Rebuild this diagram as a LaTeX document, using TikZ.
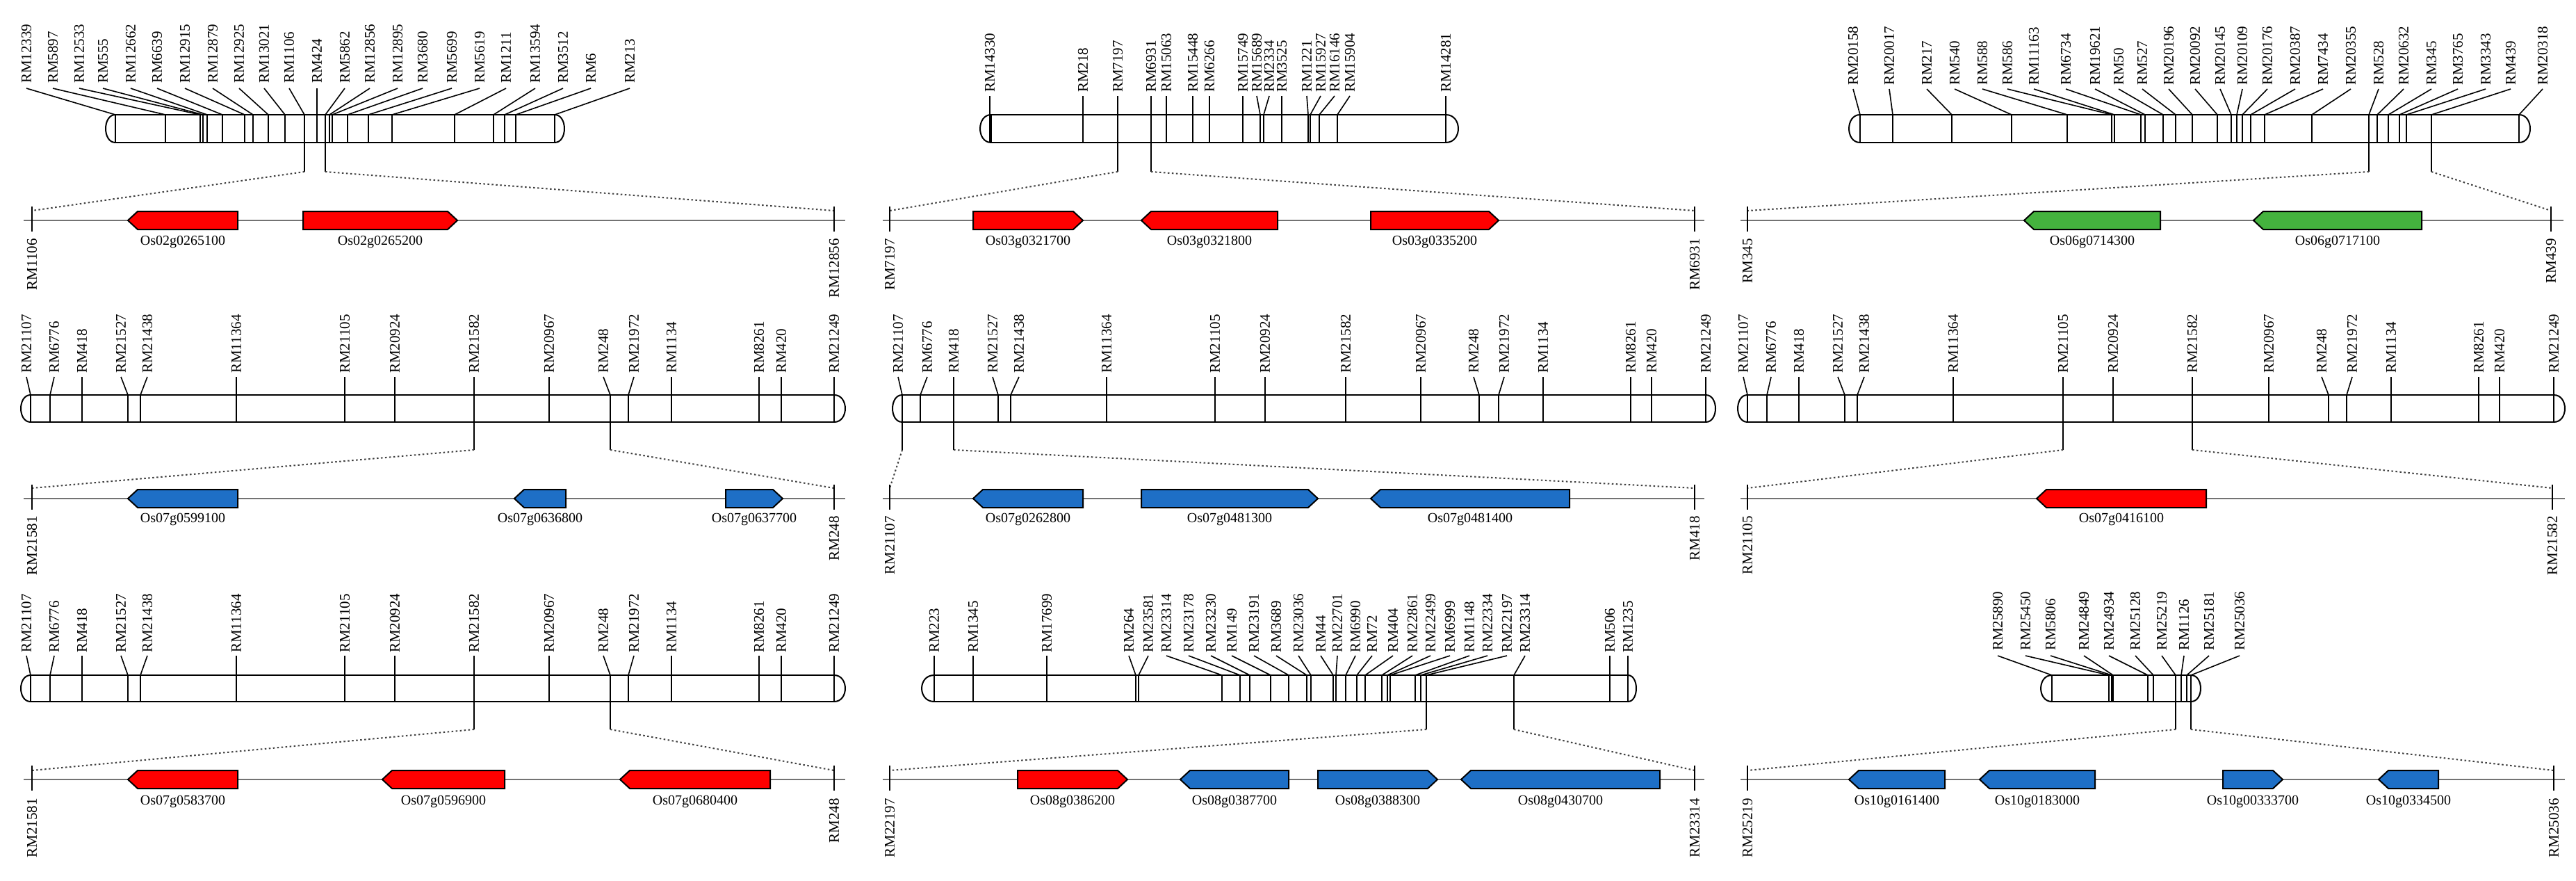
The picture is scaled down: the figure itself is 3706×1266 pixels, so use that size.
\documentclass[tikz,border=0pt]{standalone}
\usepackage{fontspec}
\setmainfont{Liberation Serif}
\begin{document}
\definecolor{gred}{HTML}{FF0000}
\definecolor{gblue}{HTML}{1E6FC6}
\definecolor{ggreen}{HTML}{44B23E}
\tikzset{
 mk/.style={rotate=90,inner sep=0pt,font=\fontsize{21}{24}\selectfont},
 gl/.style={inner sep=0pt,font=\fontsize{20}{24}\selectfont},
 thin1/.style={line width=1.6pt,black},
 chr/.style={line width=2pt,black},
 dotl/.style={line width=2pt,dash pattern=on 2.5pt off 3.5pt,black!75},
 track/.style={line width=2pt,black!55},
 tick/.style={line width=2pt,black},
 gene/.style={line width=2pt,draw=black}
}
\newcommand\drawpanel[1]{%
 \edef\mylist{#1}%
 \foreach \lx/\mx/\nm [count=\i] in \mylist {
   \node[mk,anchor=west] (\PN l\i) at (\lx,\LB) {\nm};
   \draw[thin1] (\lx,\LS) -- (\mx,\CT) -- (\mx,\CB);
 }
 \draw[chr] (\RL,\CT) rectangle (\RR,\CB);
 \draw[chr] (\RR,\CT) .. controls ({\RR+1.33*\WR},\CT) and ({\RR+1.33*\WR},\CB) .. (\RR,\CB);
 \draw[chr] (\RL,\CT) .. controls ({\RL-1.33*\WL},\CT) and ({\RL-1.33*\WL},\CB) .. (\RL,\CB);
}
\newcommand\zoomtrack[8]{%
 \coordinate (\PN z1) at (#1,\ZY); \coordinate (\PN z2) at (#2,\ZY);
 \coordinate (\PN d1) at (#3,\DY); \coordinate (\PN d2) at (#4,\DY);
 \draw[thin1] (#1,\CB) -- (\PN z1); \draw[thin1] (#2,\CB) -- (\PN z2);
 \draw[dotl] (\PN z1) -- (\PN d1); \draw[dotl] (\PN z2) -- (\PN d2);
 \draw[track] (#5,\TY) -- (#6,\TY);
 \draw[tick] (#3,\TY-20) -- (#3,\TY+16); \draw[tick] (#4,\TY-20) -- (#4,\TY+16);
 \node[mk,anchor=east] (\PN bl) at (#3,\BL) {#7};
 \node[mk,anchor=east] (\PN br) at (#4,\BL) {#8};
}
\newcommand\geneR[5]{%
 \draw[gene,fill=#4] (#2,\TY-13) -- (#3-14,\TY-13) -- (#3,\TY) -- (#3-14,\TY+13) -- (#2,\TY+13) -- cycle;
 \node[gl] (#1) at ({(#2+#3)/2},\GL) {#5};
}
\newcommand\geneL[5]{%
 \draw[gene,fill=#4] (#3,\TY-13) -- (#2+14,\TY-13) -- (#2,\TY) -- (#2+14,\TY+13) -- (#3,\TY+13) -- cycle;
 \node[gl] (#1) at ({(#2+#3)/2},\GL) {#5};
}
\newcommand\rowone{\def\CT{165}\def\CB{205}\def\ZY{247}\def\DY{303}\def\TY{317}\def\GL{348}\def\BL{343}}
\newcommand\rowtwo{\def\CT{568}\def\CB{607}\def\ZY{647}\def\DY{702}\def\TY{717}\def\GL{747}\def\BL{742}}
\newcommand\rowthree{\def\CT{971}\def\CB{1009}\def\ZY{1049}\def\DY{1108}\def\TY{1121}\def\GL{1153}\def\BL{1148}}
\newcommand\chrsevenA{38/44/RM21107, 78/72/RM6776, 118/118/RM418, 174/184/RM21527, 212/202/RM21438, 340/340/RM11364, 496/496/RM21105, 568/568/RM20924, 682/682/RM21582, 790/790/RM20967, 868/878/RM248, 912/904/RM21972, 966/966/RM1134, 1092/1092/RM8261, 1124/1124/RM420, 1200/1200/RM21249}
\begin{tikzpicture}[x=1pt,y=-1pt]
\useasboundingbox[fill=white] (0,0) rectangle (3706,1266);
% ---------- Panel A
\begin{scope}
\rowone\def\PN{A}\def\LB{120}\def\LS{127}\def\RL{166}\def\RR{798}\def\WL{14}\def\WR{14}
\drawpanel{38/166/RM12339, 76/238/RM5897, 114/288/RM12533, 148/292/RM555, 188/298/RM12662, 226/320/RM6639, 266/352/RM12915, 306/364/RM12879, 344/386/RM12925, 380/410/RM13021, 416/438/RM1106, 456/456/RM424, 496/468/RM5862, 532/474/RM12856, 572/478/RM12895, 608/500/RM3680, 650/530/RM5699, 690/564/RM5619, 728/654/RM1211, 770/710/RM13594, 810/726/RM3512, 850/742/RM6, 906/798/RM213}
\zoomtrack{438}{468}{46}{1200}{34}{1216}{RM1106}{RM12856}
\geneL{gA1}{184}{342}{gred}{Os02g0265100}
\geneR{gA2}{436}{658}{gred}{Os02g0265200}
\end{scope}
% ---------- Panel B
\begin{scope}
\rowone\def\PN{B}\def\LB{133}\def\LS{138}\def\RL{1426}\def\RR{2080}\def\WL{16}\def\WR{18}
\drawpanel{1424/1424/RM14330, 1558/1558/RM218, 1608/1608/RM7197, 1656/1656/RM6931, 1678/1678/RM15063, 1716/1716/RM15448, 1740/1740/RM6266, 1788/1788/RM15749, 1808/1813/RM15689, 1826/1818/RM2334, 1844/1844/RM3525, 1880/1882/RM1221, 1900/1885/RM15927, 1920/1898/RM16146, 1942/1924/RM15904, 2080/2080/RM14281}
\zoomtrack{1608}{1656}{1280}{2438}{1270}{2452}{RM7197}{RM6931}
\geneR{gB1}{1400}{1558}{gred}{Os03g0321700}
\geneL{gB2}{1642}{1838}{gred}{Os03g0321800}
\geneR{gB3}{1972}{2156}{gred}{Os03g0335200}
\end{scope}
% ---------- Panel C
\begin{scope}
\rowone\def\PN{C}\def\LB{123}\def\LS{128}\def\RL{2676}\def\RR{3624}\def\WL{16}\def\WR{16}
\drawpanel{2666/2676/RM20158, 2718/2723/RM20017, 2772/2808/RM217, 2812/2894/RM540, 2852/2974/RM588, 2888/3038/RM586, 2926/3042/RM11163, 2972/3080/RM6734, 3014/3086/RM19621, 3048/3112/RM50, 3082/3130/RM527, 3120/3154/RM20196, 3158/3190/RM20092, 3194/3210/RM20145, 3226/3218/RM20109, 3262/3226/RM20176, 3302/3238/RM20387, 3342/3258/RM7434, 3382/3326/RM20355, 3422/3408/RM528, 3458/3420/RM20632, 3498/3436/RM345, 3536/3452/RM3765, 3576/3462/RM3343, 3612/3498/RM439, 3658/3624/RM20318}
\zoomtrack{3408}{3498}{2514}{3670}{2504}{3688}{RM345}{RM439}
\geneL{gC1}{2912}{3108}{ggreen}{Os06g0714300}
\geneL{gC2}{3242}{3484}{ggreen}{Os06g0717100}
\end{scope}
% ---------- Panel D
\begin{scope}
\rowtwo\def\PN{D}\def\LB{537}\def\LS{542}\def\RL{44}\def\RR{1200}\def\WL{14}\def\WR{16}
\drawpanel{\chrsevenA}
\zoomtrack{682}{878}{46}{1200}{34}{1216}{RM21581}{RM248}
\geneL{gD1}{184}{342}{gblue}{Os07g0599100}
\geneL{gD2}{740}{814}{gblue}{Os07g0636800}
\geneR{gD3}{1044}{1126}{gblue}{Os07g0637700}
\end{scope}
% ---------- Panel E
\begin{scope}
\rowtwo\def\PN{E}\def\LB{537}\def\LS{542}\def\RL{1298}\def\RR{2454}\def\WL{14}\def\WR{14}
\drawpanel{1292/1298/RM21107, 1334/1324/RM6776, 1372/1372/RM418, 1428/1436/RM21527, 1466/1454/RM21438, 1592/1592/RM11364, 1748/1748/RM21105, 1820/1820/RM20924, 1936/1936/RM21582, 2044/2044/RM20967, 2120/2128/RM248, 2164/2156/RM21972, 2220/2220/RM1134, 2346/2346/RM8261, 2376/2376/RM420, 2454/2454/RM21249}
\zoomtrack{1298}{1372}{1280}{2438}{1270}{2452}{RM21107}{RM418}
\geneL{gE1}{1400}{1558}{gblue}{Os07g0262800}
\geneR{gE2}{1642}{1896}{gblue}{Os07g0481300}
\geneL{gE3}{1972}{2258}{gblue}{Os07g0481400}
\end{scope}
% ---------- Panel F
\begin{scope}
\rowtwo\def\PN{F}\def\LB{537}\def\LS{542}\def\RL{2514}\def\RR{3674}\def\WL{14}\def\WR{16}
\drawpanel{2508/2514/RM21107, 2548/2542/RM6776, 2588/2588/RM418, 2644/2654/RM21527, 2682/2672/RM21438, 2810/2810/RM11364, 2968/2968/RM21105, 3040/3040/RM20924, 3154/3154/RM21582, 3264/3264/RM20967, 3340/3350/RM248, 3384/3376/RM21972, 3440/3440/RM1134, 3566/3566/RM8261, 3596/3596/RM420, 3674/3674/RM21249}
\zoomtrack{2968}{3154}{2514}{3672}{2504}{3690}{RM21105}{RM21582}
\geneL{gF1}{2930}{3174}{gred}{Os07g0416100}
\end{scope}
% ---------- Panel G
\begin{scope}
\rowthree\def\PN{G}\def\LB{939}\def\LS{943}\def\RL{44}\def\RR{1200}\def\WL{14}\def\WR{16}
\drawpanel{\chrsevenA}
\zoomtrack{682}{878}{46}{1200}{34}{1216}{RM21581}{RM248}
\geneL{gG1}{184}{342}{gred}{Os07g0583700}
\geneL{gG2}{550}{726}{gred}{Os07g0596900}
\geneL{gG3}{892}{1108}{gred}{Os07g0680400}
\end{scope}
% ---------- Panel H
\begin{scope}
\rowthree\def\PN{H}\def\LB{939}\def\LS{943}\def\RL{1344}\def\RR{2342}\def\WL{18}\def\WR{12}
\drawpanel{1344/1344/RM223, 1400/1400/RM1345, 1506/1506/RM17699, 1624/1634/RM264, 1652/1638/RM23581, 1678/1758/RM23314, 1710/1784/RM23178, 1742/1798/RM23230, 1772/1828/RM149, 1804/1854/RM23191, 1836/1880/RM3689, 1868/1886/RM23036, 1900/1918/RM44, 1924/1922/RM22701, 1950/1936/RM6990, 1974/1952/RM72, 2004/1964/RM404, 2032/1988/RM22861, 2058/1996/RM22499, 2086/2000/RM6999, 2114/2036/RM1148, 2140/2044/RM22334, 2168/2052/RM22197, 2194/2178/RM23314, 2316/2316/RM506, 2342/2342/RM1235}
\zoomtrack{2052}{2178}{1280}{2438}{1270}{2452}{RM22197}{RM23314}
\geneR{gH1}{1464}{1622}{gred}{Os08g0386200}
\geneL{gH2}{1698}{1854}{gblue}{Os08g0387700}
\geneR{gH3}{1896}{2068}{gblue}{Os08g0388300}
\geneL{gH4}{2102}{2388}{gblue}{Os08g0430700}
\end{scope}
% ---------- Panel I
\begin{scope}
\rowthree\def\PN{I}\def\LB{936}\def\LS{943}\def\RL{2952}\def\RR{3152}\def\WL{16}\def\WR{14}
\drawpanel{2874/2952/RM25890, 2914/3034/RM25450, 2950/3038/RM5806, 2998/3040/RM24849, 3034/3090/RM24934, 3072/3098/RM25128, 3110/3130/RM25219, 3142/3138/RM1126, 3178/3146/RM25181, 3222/3152/RM25036}
\zoomtrack{3130}{3152}{2514}{3674}{2504}{3690}{RM25219}{RM25036}
\geneL{gI1}{2660}{2798}{gblue}{Os10g0161400}
\geneL{gI2}{2848}{3014}{gblue}{Os10g0183000}
\geneR{gI3}{3198}{3284}{gblue}{Os10g00333700}
\geneL{gI4}{3422}{3508}{gblue}{Os10g0334500}
\end{scope}
\end{tikzpicture}
\end{document}
